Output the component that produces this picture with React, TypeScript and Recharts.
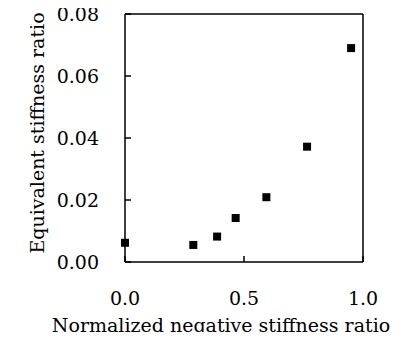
import { ScatterChart, Scatter, XAxis, YAxis, ReferenceLine } from "recharts";

const negRatio = [0.0, 0.287, 0.387, 0.465, 0.594, 0.765, 0.95];
const eqRatio = [0.0062, 0.0055, 0.0082, 0.0142, 0.0209, 0.0372, 0.069];
const xTicks = [0, 0.5, 1];
const yTicks = [0, 0.02, 0.04, 0.06, 0.08];

const points = negRatio.map((x, i) => ({ x, y: eqRatio[i] }));

const font = "DejaVu Serif";
const fs = 19;
const tickStyle = { fontSize: fs, fill: "#000", fontFamily: font };
const ax = { stroke: "#000", strokeWidth: 1.5 };

export default function App() {
  return (
    <div style={{ margin: -8 }}>
      <ScatterChart width={406} height={340} margin={{ top: 14, right: 43, bottom: 0, left: 0 }}>
        <XAxis
          type="number"
          dataKey="x"
          domain={[0, 1]}
          ticks={xTicks}
          tickFormatter={(v: number) => v.toFixed(1)}
          height={78}
          tick={tickStyle}
          axisLine={ax}
          tickLine={ax}
          tickSize={-6}
          tickMargin={36}
          label={{
            content: () => (
              <text x={221} y={332} textAnchor="middle" fill="#000" fontFamily={font} fontSize={fs}>
                Normalized negative stiffness ratio
              </text>
            ),
          }}
        />
        <YAxis
          type="number"
          dataKey="y"
          domain={[0, 0.08]}
          ticks={yTicks}
          tickFormatter={(v: number) => v.toFixed(2)}
          width={125}
          tick={tickStyle}
          axisLine={ax}
          tickLine={ax}
          tickSize={-6}
          tickMargin={32}
          label={{
            content: () => (
              <text x={44} y={133} transform="rotate(-90 44 133)" textAnchor="middle" fill="#000" fontFamily={font} fontSize={fs}>
                Equivalent stiffness ratio
              </text>
            ),
          }}
        />
        <ReferenceLine y={0.08} stroke="#000" strokeWidth={1.5} ifOverflow="visible" />
        <ReferenceLine x={1} stroke="#000" strokeWidth={1.5} ifOverflow="visible" />
        <Scatter data={points} shape="square" size={64} fill="#000" isAnimationActive={false} />
      </ScatterChart>
    </div>
  );
}
